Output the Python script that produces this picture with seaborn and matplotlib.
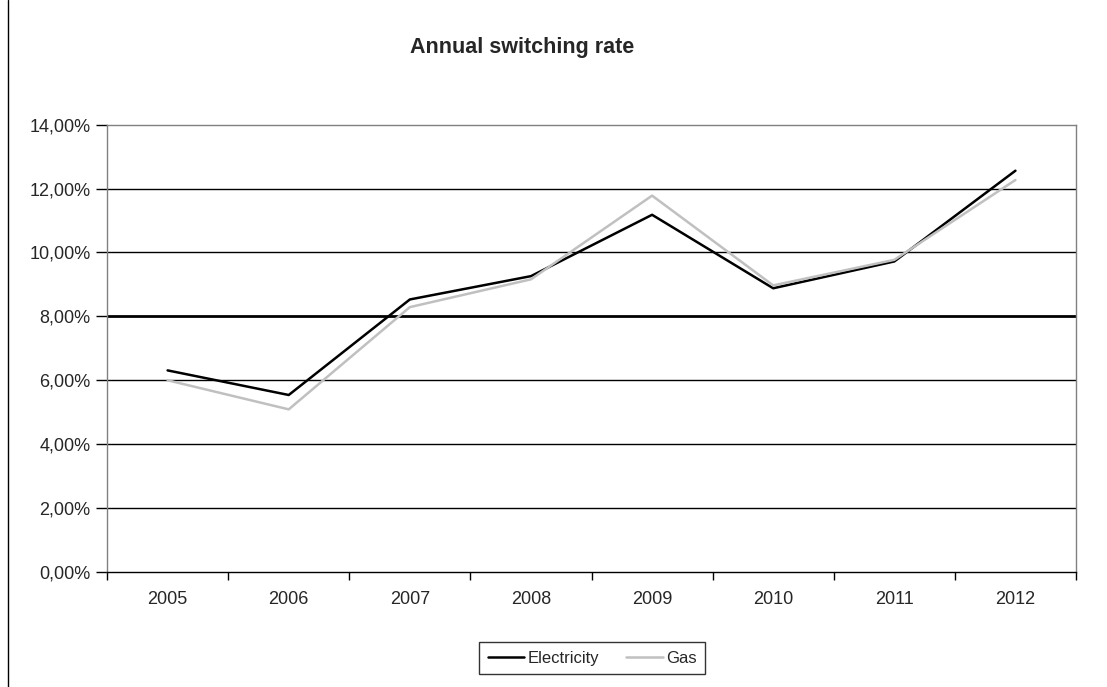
import matplotlib
matplotlib.use("Agg")
import matplotlib.pyplot as plt
from matplotlib.lines import Line2D
from matplotlib.ticker import FixedLocator, FuncFormatter
import seaborn as sns
import pandas as pd

years = ["2005", "2006", "2007", "2008", "2009", "2010", "2011", "2012"]
electricity = [6.31, 5.54, 8.53, 9.26, 11.18, 8.88, 9.72, 12.56]
gas = [6.00, 5.09, 8.29, 9.16, 11.78, 8.97, 9.77, 12.27]
series_names = ["Electricity", "Gas"]
y_ticks = [0, 2, 4, 6, 8, 10, 12, 14]

df = pd.DataFrame({
    "year": years * 2,
    "rate": electricity + gas,
    "series": [series_names[0]] * len(years) + [series_names[1]] * len(years),
})
df["pos"] = df["year"].map({y: i for i, y in enumerate(years)})

sns.set_style("white")
plt.rcParams["font.family"] = ["Liberation Sans", "DejaVu Sans"]

fig = plt.figure(figsize=(11.07, 6.87), dpi=100)
ax = fig.add_axes([0.0967, 0.1674, 0.8753, 0.6511])

for y in y_ticks[1:-1]:
    ax.axhline(y, color="black", lw=2.0 if y == 8 else 1.0, zorder=1)

sns.lineplot(data=df, x="pos", y="rate", hue="series", hue_order=series_names,
             palette={"Electricity": "black", "Gas": "#c0c0c0"},
             linewidth=1.8, ax=ax, legend=False, zorder=3)

ax.set_xlim(-0.5, len(years) - 0.5)
ax.set_ylim(0, 14)
ax.set_xlabel("")
ax.set_ylabel("")

ax.xaxis.set_major_locator(FixedLocator(range(len(years))))
ax.set_xticklabels(years)
ax.xaxis.set_minor_locator(FixedLocator([i - 0.5 for i in range(len(years) + 1)]))
ax.tick_params(axis="x", which="major", length=0, pad=14, labelsize=13)
ax.tick_params(axis="x", which="minor", length=6, width=1, color="black", direction="out", bottom=True)
ax.set_yticks(y_ticks)
ax.yaxis.set_major_formatter(FuncFormatter(lambda v, _: f"{v:.2f}".replace(".", ",") + "%"))
ax.tick_params(axis="y", which="major", length=8, width=1, color="black", direction="out",
               left=True, labelsize=13, pad=4)

for side in ["top", "right", "left"]:
    ax.spines[side].set_color("#808080")
    ax.spines[side].set_linewidth(1.0)
ax.spines["bottom"].set_color("black")
ax.spines["bottom"].set_linewidth(1.0)

fig.text(0.4715, 0.931, "Annual switching rate", ha="center", va="center",
         fontsize=15.5, fontweight="bold")

handles = [Line2D([0], [0], color="black", lw=1.8),
           Line2D([0], [0], color="#c0c0c0", lw=1.8)]
leg = fig.legend(handles, series_names, loc="center", bbox_to_anchor=(0.535, 0.042),
                 ncol=2, frameon=True, fancybox=False, fontsize=12,
                 handlelength=2.2, handletextpad=0.2, columnspacing=1.6,
                 borderpad=0.5)
leg.get_frame().set_edgecolor("black")
leg.get_frame().set_linewidth(1.0)

fig.add_artist(Line2D([8 / 1107, 8 / 1107], [0, 1], transform=fig.transFigure,
                      color="black", lw=1.0))

fig.savefig("out.png", dpi=100)
